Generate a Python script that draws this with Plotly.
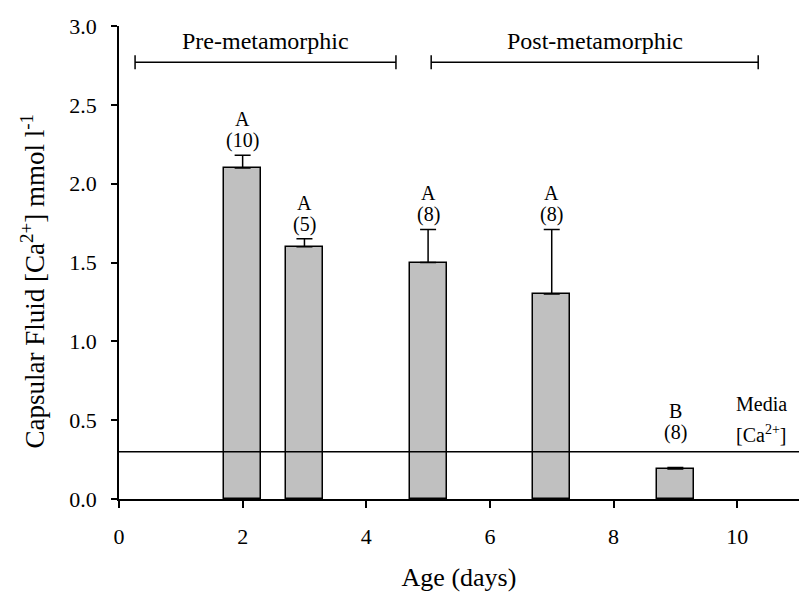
import plotly.graph_objects as go

# Capsular fluid calcium by age
ages = [2, 3, 5, 7, 9]
ca_mean = [2.10, 1.60, 1.50, 1.30, 0.19]
ca_se = [0.08, 0.05, 0.21, 0.41, 0.01]
groups = ["A", "A", "A", "A", "B"]
n_obs = [10, 5, 8, 8, 8]

media_ca = 0.30

stage_names = ["Pre-metamorphic", "Post-metamorphic"]
stage_start = [0.26, 5.05]
stage_end = [4.48, 10.34]
stage_level = 2.77

FONT = "Liberation Serif"
ANN = dict(family=FONT, size=20, color="black")

fig = go.Figure()

fig.add_trace(go.Bar(
    x=ages, y=ca_mean, width=0.6,
    marker=dict(color="#c0c0c0", line=dict(color="black", width=1.5)),
    error_y=dict(type="data", array=ca_se, arrayminus=[0] * len(ca_se),
                 symmetric=False, color="black", thickness=1.5, width=8),
    showlegend=False, hoverinfo="skip",
))

# Group letter and sample size above each bar (kept clear of the media line)
for x, m, s, g, n in zip(ages, ca_mean, ca_se, groups, n_obs):
    top = m + s
    base = max(top, media_ca)
    lift = 1 if top >= media_ca else 6
    fig.add_annotation(x=x, y=base, text=f"({n})", showarrow=False,
                       yanchor="bottom", yshift=lift, font=ANN)
    fig.add_annotation(x=x, y=base, text=g, showarrow=False,
                       yanchor="bottom", yshift=lift + 22, font=ANN)

# Media calcium reference line
fig.add_trace(go.Scatter(x=[0, 11], y=[media_ca, media_ca], mode="lines",
                         line=dict(color="black", width=1.5),
                         showlegend=False, hoverinfo="skip"))
fig.add_annotation(x=10.39, y=media_ca, text="[Ca<sup>2+</sup>]",
                   showarrow=False, yanchor="bottom", yshift=4, font=ANN)
fig.add_annotation(x=10.39, y=media_ca, text="Media",
                   showarrow=False, yanchor="bottom", yshift=35, font=ANN)

# Developmental stage brackets
cap = 0.045
for name, x0, x1 in zip(stage_names, stage_start, stage_end):
    fig.add_trace(go.Scatter(
        x=[x0, x0, None, x0, x1, None, x1, x1],
        y=[stage_level - cap, stage_level + cap, None, stage_level, stage_level,
           None, stage_level - cap, stage_level + cap],
        mode="lines", line=dict(color="black", width=1.5),
        showlegend=False, hoverinfo="skip"))
    fig.add_annotation(x=(x0 + x1) / 2, y=stage_level, text=name, showarrow=False,
                       yanchor="bottom", yshift=6,
                       font=dict(family=FONT, size=24, color="black"))

# Vertical axis title
fig.add_annotation(
    text="Capsular Fluid [Ca<sup>2+</sup>] mmol l<sup>-1</sup>",
    xref="paper", yref="paper", x=-0.1265, y=0.46,
    xanchor="center", yanchor="middle", textangle=-90, showarrow=False,
    font=dict(family=FONT, size=27, color="black"),
)

fig.update_layout(
    width=799, height=602,
    margin=dict(l=119, r=0, t=26, b=103),
    plot_bgcolor="white", paper_bgcolor="white",
    font=dict(family=FONT, size=23, color="black"),
    bargap=0,
)
fig.update_xaxes(
    range=[0, 11], tickvals=[0, 2, 4, 6, 8, 10],
    showline=True, linecolor="black", linewidth=1.5,
    ticks="outside", ticklen=7, tickwidth=1.5, tickcolor="black",
    ticklabelstandoff=10, tickfont=dict(family=FONT, size=22),
    showgrid=False, zeroline=False,
    title=dict(text="Age (days)", font=dict(family=FONT, size=26), standoff=20),
)
fig.update_yaxes(
    range=[0, 3.0], tickvals=[0, 0.5, 1.0, 1.5, 2.0, 2.5, 3.0], tickformat=".1f",
    showline=True, linecolor="black", linewidth=1.5,
    ticks="outside", ticklen=6, tickwidth=1.5, tickcolor="black",
    ticklabelstandoff=10, tickfont=dict(family=FONT, size=22),
    showgrid=False, zeroline=False,
)

fig.write_html("out.html")
